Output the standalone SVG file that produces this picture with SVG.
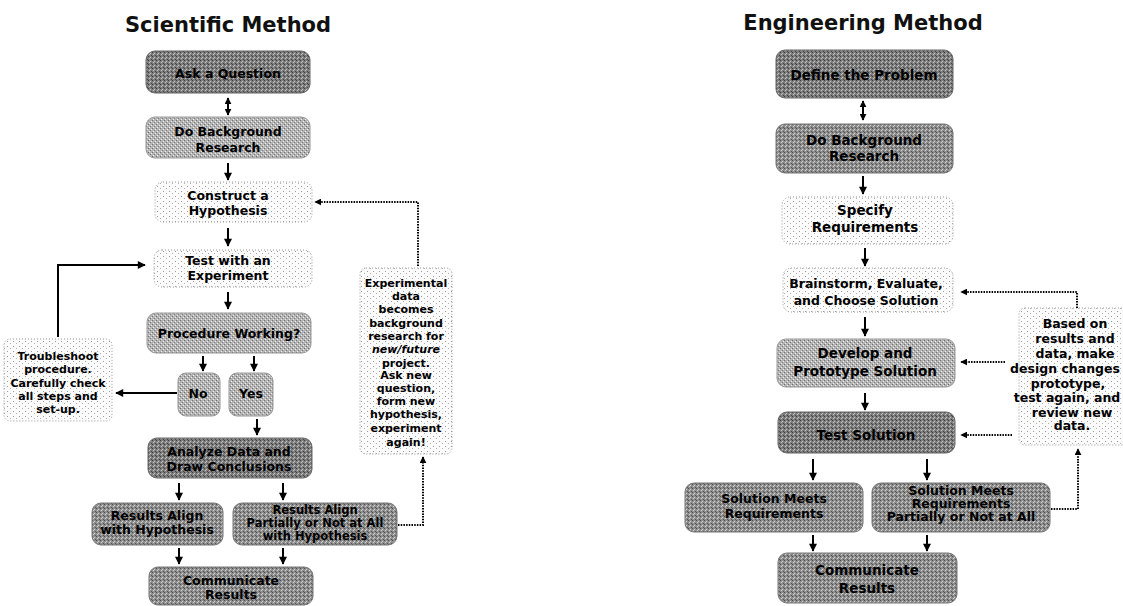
<svg xmlns="http://www.w3.org/2000/svg" width="1123" height="606" viewBox="0 0 1123 606">
<defs>
<pattern id="pDark" width="4" height="4" patternUnits="userSpaceOnUse">
<rect width="4" height="4" fill="#8e8e8e"/><rect x="0" y="0" width="1" height="1" fill="#4e4e4e"/><rect x="2" y="1" width="1" height="1" fill="#d2d2d2"/><rect x="1" y="2" width="1" height="1" fill="#cfcfcf"/><rect x="3" y="3" width="1" height="1" fill="#555"/>
</pattern>
<pattern id="pDarker" width="4" height="4" patternUnits="userSpaceOnUse">
<rect width="4" height="4" fill="#7e7e7e"/><rect x="0" y="0" width="1" height="1" fill="#3e3e3e"/><rect x="2" y="1" width="1" height="1" fill="#c4c4c4"/><rect x="1" y="2" width="1" height="1" fill="#c0c0c0"/><rect x="3" y="3" width="1" height="1" fill="#444"/>
</pattern>
<pattern id="pMid" width="4" height="4" patternUnits="userSpaceOnUse">
<rect width="4" height="4" fill="#b4b4b4"/><rect x="0" y="0" width="1" height="1" fill="#6e6e6e"/><rect x="2" y="2" width="1" height="1" fill="#7a7a7a"/><rect x="3" y="1" width="1" height="1" fill="#eee"/><rect x="1" y="3" width="1" height="1" fill="#eee"/>
</pattern>
<pattern id="pLight" width="6" height="5" patternUnits="userSpaceOnUse">
<rect width="6" height="5" fill="#fbfbfb"/><rect x="1" y="1" width="1" height="1" fill="#9a9a9a"/><rect x="4" y="3" width="1" height="1" fill="#b0b0b0"/>
</pattern>
<marker id="ah" viewBox="0 0 10 10" refX="9" refY="5" markerWidth="9" markerHeight="8" markerUnits="userSpaceOnUse" orient="auto-start-reverse">
<path d="M0,0 L10,5 L0,10 z" fill="#000"/>
</marker>
<marker id="ahs" viewBox="0 0 10 10" refX="9" refY="5" markerWidth="7" markerHeight="7" markerUnits="userSpaceOnUse" orient="auto-start-reverse">
<path d="M0,0 L10,5 L0,10 z" fill="#000"/>
</marker>
</defs>
<style>
.title{font-family:"DejaVu Sans",Verdana,sans-serif;font-weight:bold;font-size:21px;fill:#111;text-anchor:middle}
.t{font-family:"DejaVu Sans",Verdana,sans-serif;font-weight:bold;font-size:12.5px;fill:#000;text-anchor:middle}
.t3{font-family:"DejaVu Sans",Verdana,sans-serif;font-weight:bold;font-size:11.5px;fill:#000;text-anchor:middle}
.tr{font-family:"DejaVu Sans",Verdana,sans-serif;font-weight:bold;font-size:13.5px;fill:#000;text-anchor:middle}
.s{font-family:"DejaVu Sans",Verdana,sans-serif;font-weight:bold;font-size:11px;fill:#000;text-anchor:middle}
.sr{font-family:"DejaVu Sans",Verdana,sans-serif;font-weight:bold;font-size:12.5px;fill:#000;text-anchor:middle}
.dark{fill:url(#pDark);stroke:#777;stroke-width:1}
.darker{fill:url(#pDarker);stroke:#666;stroke-width:1}
.mid{fill:url(#pMid);stroke:#999;stroke-width:1}
.light{fill:url(#pLight);stroke:#999;stroke-width:1;stroke-dasharray:1 2}
.ar{fill:none;stroke:#000;stroke-width:2;marker-end:url(#ah)}
.dbl{fill:none;stroke:#000;stroke-width:2;marker-end:url(#ahs);marker-start:url(#ahs)}
.dot{fill:none;stroke:#000;stroke-width:2;stroke-dasharray:1.5 1.2;marker-end:url(#ahs)}
</style>
<rect width="1123" height="606" fill="#fff"/>

<text class="title" x="228" y="32">Scientific Method</text>
<text class="title" x="863" y="30">Engineering Method</text>

<!-- Scientific method nodes -->
<g id="sm-ask"><rect class="darker" x="146" y="51" width="164" height="42" rx="9"/><text class="t" x="228" y="78">Ask a Question</text></g>
<g id="sm-bg"><rect class="mid" x="146" y="117" width="164" height="41" rx="9"/><text class="t" x="228" y="136">Do Background</text><text class="t" x="228" y="152">Research</text></g>
<g id="sm-construct"><rect class="light" x="155" y="182" width="157" height="40" rx="8"/><text class="t" x="228" y="200">Construct a</text><text class="t" x="228" y="215">Hypothesis</text></g>
<g id="sm-test"><rect class="light" x="154" y="250" width="158" height="37" rx="8"/><text class="t" x="228" y="265">Test with an</text><text class="t" x="228" y="280">Experiment</text></g>
<g id="sm-procedure"><rect class="mid" x="147" y="313" width="164" height="40" rx="9"/><text class="t" x="229" y="338">Procedure Working?</text></g>
<g id="sm-no"><rect class="mid" x="178" y="373" width="42" height="43" rx="8"/><text class="t" x="198" y="398">No</text></g>
<g id="sm-yes"><rect class="mid" x="229" y="373" width="44" height="43" rx="8"/><text class="t" x="251" y="398">Yes</text></g>
<g id="sm-troubleshoot"><rect class="light" x="4" y="339" width="108" height="82" rx="6"/>
<text class="s" x="58" y="360">Troubleshoot</text><text class="s" x="58" y="373">procedure.</text><text class="s" x="58" y="387">Carefully check</text><text class="s" x="58" y="400">all steps and</text><text class="s" x="58" y="413">set-up.</text></g>
<g id="sm-experimental"><rect class="light" x="360" y="268" width="92" height="186" rx="6"/>
<text class="s" x="406" y="287">Experimental</text><text class="s" x="406" y="300">data</text><text class="s" x="406" y="313">becomes</text><text class="s" x="406" y="327">background</text><text class="s" x="406" y="340">research for</text><text class="s" x="406" y="353" font-style="italic">new/future</text><text class="s" x="406" y="367">project.</text><text class="s" x="406" y="379">Ask new</text><text class="s" x="406" y="392">question,</text><text class="s" x="406" y="405">form new</text><text class="s" x="406" y="418">hypothesis,</text><text class="s" x="406" y="432">experiment</text><text class="s" x="406" y="446">again!</text></g>
<g id="sm-analyze"><rect class="darker" x="148" y="438" width="164" height="40" rx="9"/><text class="t" x="229" y="456">Analyze Data and</text><text class="t" x="229" y="471">Draw Conclusions</text></g>
<g id="sm-align1"><rect class="dark" x="92" y="503" width="131" height="42" rx="9"/><text class="t" x="157" y="520">Results Align</text><text class="t" x="157" y="534">with Hypothesis</text></g>
<g id="sm-align2"><rect class="dark" x="233" y="503" width="164" height="42" rx="9"/><text class="t3" x="315" y="514">Results Align</text><text class="t3" x="315" y="527">Partially or Not at All</text><text class="t3" x="315" y="540">with Hypothesis</text></g>
<g id="sm-communicate"><rect class="dark" x="149" y="567" width="164" height="38" rx="9"/><text class="t" x="231" y="585">Communicate</text><text class="t" x="231" y="599">Results</text></g>

<!-- Engineering method nodes -->
<g id="em-define"><rect class="darker" x="776" y="50" width="177" height="48" rx="9"/><text class="tr" x="864" y="80">Define the Problem</text></g>
<g id="em-bg"><rect class="dark" x="776" y="124" width="177" height="49" rx="9"/><text class="tr" x="864" y="145">Do Background</text><text class="tr" x="864" y="161">Research</text></g>
<g id="em-specify"><rect class="light" x="782" y="197" width="171" height="47" rx="8"/><text class="tr" x="865" y="215">Specify</text><text class="tr" x="865" y="232">Requirements</text></g>
<g id="em-brainstorm"><rect class="light" x="783" y="268" width="170" height="44" rx="8"/><text class="sr" x="866" y="288">Brainstorm, Evaluate,</text><text class="sr" x="866" y="305">and Choose Solution</text></g>
<g id="em-develop"><rect class="mid" x="777" y="339" width="178" height="48" rx="9"/><text class="tr" x="865" y="358">Develop and</text><text class="tr" x="865" y="376">Prototype Solution</text></g>
<g id="em-test"><rect class="darker" x="778" y="412" width="177" height="41" rx="9"/><text class="tr" x="866" y="440">Test Solution</text></g>
<g id="em-meets1"><rect class="dark" x="685" y="483" width="178" height="49" rx="9"/><text class="t" x="774" y="503">Solution Meets</text><text class="t" x="774" y="518">Requirements</text></g>
<g id="em-meets2"><rect class="dark" x="872" y="483" width="178" height="49" rx="9"/><text class="t" x="961" y="495">Solution Meets</text><text class="t" x="961" y="508">Requirements</text><text class="t" x="961" y="521">Partially or Not at All</text></g>
<g id="em-communicate"><rect class="dark" x="778" y="553" width="179" height="50" rx="9"/><text class="tr" x="867" y="575">Communicate</text><text class="tr" x="867" y="593">Results</text></g>
<g id="em-based"><rect class="light" x="1019" y="308" width="115" height="137" rx="6"/>
<text class="sr" x="1075" y="328">Based on</text><text class="sr" x="1075" y="343">results and</text><text class="sr" x="1075" y="358">data, make</text><text class="sr" x="1065" y="373">design changes</text><text class="sr" x="1068" y="388">prototype,</text><text class="sr" x="1067" y="402">test again, and</text><text class="sr" x="1072" y="417">review new</text><text class="sr" x="1072" y="430">data.</text></g>

<!-- Connectors -->
<g id="connectors">
<path class="dbl" d="M228,98 V115"/>
<path class="ar" d="M228,163 V180"/>
<path class="ar" d="M228,228 V246"/>
<path class="ar" d="M228,292 V309"/>
<path class="ar" d="M203,356 V371"/>
<path class="ar" d="M254,356 V371"/>
<path class="ar" d="M177,393 H116"/>
<path class="ar" d="M58,337 V265 H145"/>
<path class="ar" d="M257,419 V435"/>
<path class="ar" d="M179,483 V500"/>
<path class="ar" d="M283,483 V500"/>
<path class="ar" d="M179,548 V564"/>
<path class="ar" d="M283,548 V564"/>
<path class="dot" d="M398,525 H423 V457"/>
<path class="dot" d="M418,266 V202 H315"/>

<path class="dbl" d="M863,101 V120"/>
<path class="ar" d="M863,176 V194"/>
<path class="ar" d="M865,248 V266"/>
<path class="ar" d="M865,317 V336"/>
<path class="ar" d="M865,393 V410"/>
<path class="ar" d="M813,459 V480"/>
<path class="ar" d="M927,459 V480"/>
<path class="ar" d="M813,535 V551"/>
<path class="ar" d="M927,535 V551"/>
<path class="dot" d="M1077,308 V292 H961"/>
<path class="dot" d="M1005,362 H961"/>
<path class="dot" d="M1012,435 H961"/>
<path class="dot" d="M1051,509 H1078 V449"/>
</g>
</svg>
